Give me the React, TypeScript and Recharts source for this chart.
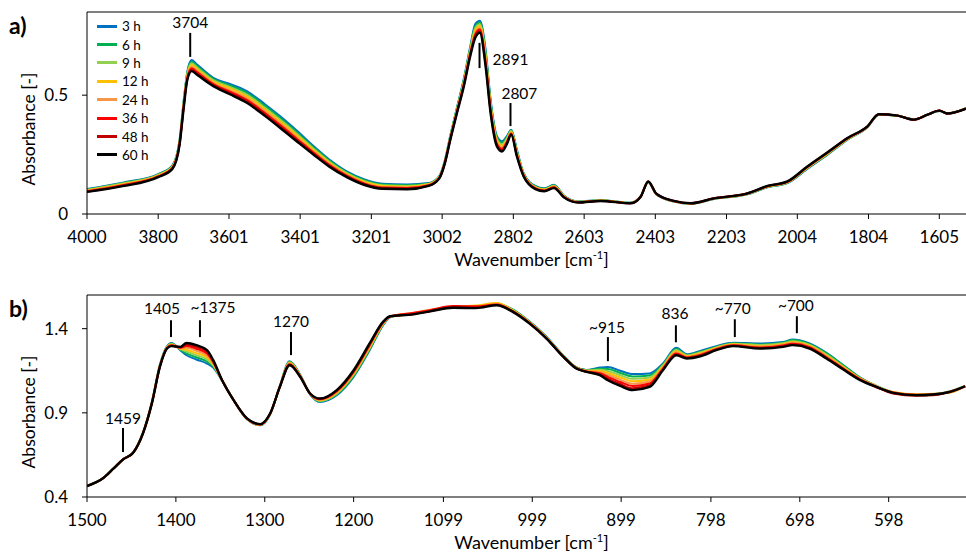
import { LineChart, Line, XAxis, YAxis, ReferenceLine, ReferenceDot, Label } from "recharts";

const seriesNames = ["3 h", "6 h", "9 h", "12 h", "24 h", "36 h", "48 h", "60 h"];
const seriesColors = ["#0070c0", "#00b050", "#92d050", "#ffc000", "#f79646", "#ff0000", "#c00000", "#000000"];

// panel a) 4000 - 1530 cm-1
const wnA = [4000, 3900, 3800, 3760, 3740, 3728, 3718, 3706, 3690, 3645, 3600, 3551, 3500, 3457, 3410, 3363, 3320, 3270, 3220, 3170, 3100, 3040, 3010, 2995, 2979, 2960, 2941, 2923, 2909, 2896, 2880, 2866, 2848, 2834, 2820, 2808, 2792, 2773, 2740, 2715, 2688, 2660, 2620, 2557, 2473, 2444, 2423, 2400, 2351, 2304, 2238, 2144, 2088, 2032, 1976, 1919, 1863, 1807, 1775, 1722, 1676, 1638, 1605, 1582, 1530];
const a3h = [0.105, 0.132, 0.168, 0.205, 0.31, 0.48, 0.6, 0.648, 0.628, 0.573, 0.548, 0.517, 0.462, 0.411, 0.35, 0.285, 0.23, 0.179, 0.145, 0.127, 0.124, 0.13, 0.16, 0.222, 0.33, 0.45, 0.57, 0.705, 0.799, 0.813, 0.693, 0.482, 0.327, 0.306, 0.328, 0.355, 0.27, 0.172, 0.118, 0.108, 0.123, 0.078, 0.053, 0.058, 0.047, 0.075, 0.134, 0.082, 0.052, 0.043, 0.063, 0.083, 0.112, 0.13, 0.19, 0.25, 0.313, 0.365, 0.418, 0.413, 0.398, 0.418, 0.433, 0.423, 0.445];
const a6h = [0.103, 0.13, 0.166, 0.203, 0.307, 0.476, 0.595, 0.641, 0.622, 0.568, 0.542, 0.51, 0.455, 0.404, 0.343, 0.28, 0.226, 0.175, 0.142, 0.124, 0.121, 0.128, 0.158, 0.22, 0.327, 0.447, 0.565, 0.699, 0.79, 0.806, 0.682, 0.474, 0.321, 0.3, 0.323, 0.352, 0.266, 0.17, 0.116, 0.106, 0.121, 0.077, 0.052, 0.058, 0.047, 0.075, 0.135, 0.083, 0.053, 0.043, 0.064, 0.084, 0.113, 0.131, 0.192, 0.252, 0.314, 0.366, 0.418, 0.413, 0.398, 0.418, 0.433, 0.423, 0.445];
const a9h = [0.101, 0.128, 0.164, 0.2, 0.304, 0.471, 0.59, 0.634, 0.615, 0.563, 0.535, 0.502, 0.447, 0.396, 0.337, 0.274, 0.221, 0.172, 0.138, 0.121, 0.118, 0.126, 0.157, 0.218, 0.325, 0.443, 0.56, 0.693, 0.782, 0.798, 0.672, 0.465, 0.314, 0.293, 0.318, 0.349, 0.262, 0.168, 0.114, 0.104, 0.119, 0.076, 0.052, 0.057, 0.046, 0.074, 0.135, 0.083, 0.053, 0.044, 0.064, 0.084, 0.114, 0.132, 0.193, 0.253, 0.315, 0.366, 0.419, 0.413, 0.398, 0.418, 0.434, 0.423, 0.444];
const a12h = [0.1, 0.125, 0.162, 0.198, 0.301, 0.467, 0.584, 0.627, 0.609, 0.557, 0.529, 0.495, 0.44, 0.389, 0.33, 0.269, 0.217, 0.168, 0.135, 0.118, 0.115, 0.125, 0.155, 0.217, 0.322, 0.44, 0.556, 0.687, 0.773, 0.791, 0.661, 0.457, 0.308, 0.287, 0.313, 0.346, 0.257, 0.166, 0.112, 0.103, 0.117, 0.074, 0.051, 0.057, 0.046, 0.074, 0.136, 0.084, 0.054, 0.044, 0.065, 0.085, 0.115, 0.133, 0.195, 0.255, 0.316, 0.367, 0.419, 0.414, 0.397, 0.418, 0.434, 0.423, 0.444];
const a24h = [0.098, 0.123, 0.16, 0.196, 0.298, 0.462, 0.579, 0.62, 0.602, 0.552, 0.522, 0.488, 0.433, 0.382, 0.323, 0.263, 0.212, 0.165, 0.131, 0.114, 0.112, 0.123, 0.154, 0.215, 0.32, 0.436, 0.551, 0.681, 0.765, 0.783, 0.65, 0.448, 0.301, 0.28, 0.308, 0.342, 0.253, 0.164, 0.11, 0.101, 0.115, 0.073, 0.05, 0.056, 0.046, 0.074, 0.136, 0.084, 0.054, 0.044, 0.065, 0.086, 0.116, 0.134, 0.196, 0.256, 0.317, 0.367, 0.419, 0.414, 0.397, 0.418, 0.434, 0.423, 0.444];
const a36h = [0.096, 0.121, 0.158, 0.194, 0.295, 0.458, 0.574, 0.613, 0.596, 0.547, 0.516, 0.48, 0.425, 0.374, 0.316, 0.258, 0.208, 0.161, 0.128, 0.111, 0.109, 0.121, 0.152, 0.213, 0.317, 0.433, 0.546, 0.675, 0.756, 0.776, 0.64, 0.44, 0.295, 0.274, 0.303, 0.339, 0.249, 0.162, 0.108, 0.099, 0.113, 0.072, 0.049, 0.056, 0.045, 0.073, 0.137, 0.085, 0.055, 0.045, 0.066, 0.086, 0.117, 0.135, 0.198, 0.258, 0.318, 0.368, 0.42, 0.414, 0.397, 0.418, 0.435, 0.423, 0.443];
const a48h = [0.094, 0.119, 0.157, 0.192, 0.292, 0.454, 0.569, 0.607, 0.59, 0.542, 0.51, 0.474, 0.419, 0.368, 0.31, 0.253, 0.204, 0.158, 0.125, 0.109, 0.106, 0.119, 0.151, 0.211, 0.315, 0.43, 0.542, 0.67, 0.749, 0.769, 0.631, 0.433, 0.289, 0.268, 0.299, 0.337, 0.245, 0.16, 0.107, 0.097, 0.111, 0.071, 0.049, 0.055, 0.045, 0.073, 0.137, 0.085, 0.055, 0.045, 0.066, 0.087, 0.117, 0.136, 0.199, 0.259, 0.319, 0.368, 0.42, 0.414, 0.397, 0.418, 0.435, 0.423, 0.443];
const a60h = [0.093, 0.117, 0.155, 0.19, 0.29, 0.45, 0.565, 0.601, 0.585, 0.538, 0.505, 0.468, 0.413, 0.362, 0.305, 0.249, 0.2, 0.155, 0.122, 0.106, 0.104, 0.118, 0.15, 0.21, 0.313, 0.427, 0.538, 0.665, 0.742, 0.763, 0.622, 0.426, 0.284, 0.263, 0.295, 0.334, 0.242, 0.158, 0.105, 0.096, 0.109, 0.07, 0.048, 0.055, 0.045, 0.073, 0.137, 0.085, 0.055, 0.045, 0.066, 0.087, 0.118, 0.137, 0.2, 0.26, 0.32, 0.369, 0.42, 0.414, 0.397, 0.418, 0.435, 0.423, 0.443];

// panel b) 1500 - 512 cm-1
const wnB = [1500, 1482, 1470, 1459, 1448, 1437, 1427, 1418, 1410, 1405, 1395, 1388, 1377, 1365, 1358, 1348, 1335, 1320, 1305, 1294, 1283, 1272, 1260, 1249, 1238, 1219, 1200, 1182, 1167, 1159, 1133, 1114, 1088, 1062, 1039, 1021, 1002, 983, 964, 950, 938, 923, 914, 900, 886, 867, 852, 837, 825, 810, 792, 773, 743, 717, 706, 687, 668, 649, 630, 612, 593, 567, 548, 529, 512];
const b3h = [0.466, 0.512, 0.571, 0.626, 0.665, 0.784, 0.965, 1.185, 1.295, 1.315, 1.272, 1.242, 1.217, 1.193, 1.169, 1.092, 0.975, 0.862, 0.826, 0.89, 1.06, 1.207, 1.125, 1.01, 0.965, 1.005, 1.114, 1.272, 1.42, 1.468, 1.49, 1.508, 1.527, 1.532, 1.545, 1.512, 1.442, 1.352, 1.24, 1.172, 1.155, 1.169, 1.173, 1.15, 1.13, 1.134, 1.193, 1.286, 1.248, 1.268, 1.296, 1.317, 1.312, 1.321, 1.335, 1.312, 1.256, 1.183, 1.11, 1.06, 1.022, 1.008, 1.012, 1.022, 1.058];
const b6h = [0.466, 0.511, 0.57, 0.625, 0.664, 0.783, 0.964, 1.183, 1.293, 1.312, 1.275, 1.253, 1.23, 1.205, 1.176, 1.092, 0.975, 0.863, 0.827, 0.891, 1.059, 1.203, 1.123, 1.011, 0.968, 1.01, 1.12, 1.278, 1.423, 1.469, 1.488, 1.506, 1.53, 1.535, 1.548, 1.514, 1.44, 1.35, 1.239, 1.171, 1.153, 1.162, 1.161, 1.137, 1.116, 1.122, 1.187, 1.279, 1.244, 1.263, 1.292, 1.314, 1.306, 1.316, 1.332, 1.308, 1.253, 1.182, 1.108, 1.058, 1.02, 1.003, 1.008, 1.028, 1.06];
const b9h = [0.465, 0.512, 0.571, 0.626, 0.664, 0.782, 0.962, 1.181, 1.291, 1.309, 1.278, 1.264, 1.243, 1.217, 1.182, 1.093, 0.975, 0.864, 0.828, 0.892, 1.058, 1.2, 1.121, 1.012, 0.971, 1.014, 1.126, 1.284, 1.426, 1.47, 1.492, 1.51, 1.526, 1.53, 1.55, 1.51, 1.438, 1.348, 1.238, 1.17, 1.151, 1.156, 1.149, 1.123, 1.102, 1.11, 1.181, 1.273, 1.241, 1.258, 1.289, 1.311, 1.303, 1.313, 1.325, 1.303, 1.246, 1.175, 1.106, 1.062, 1.018, 1.006, 1.006, 1.024, 1.056];
const b12h = [0.465, 0.511, 0.57, 0.625, 0.664, 0.781, 0.961, 1.18, 1.289, 1.306, 1.281, 1.275, 1.255, 1.229, 1.189, 1.093, 0.975, 0.864, 0.829, 0.893, 1.057, 1.196, 1.12, 1.012, 0.974, 1.019, 1.132, 1.29, 1.429, 1.471, 1.487, 1.503, 1.528, 1.538, 1.552, 1.508, 1.437, 1.347, 1.236, 1.169, 1.15, 1.149, 1.137, 1.11, 1.087, 1.098, 1.175, 1.266, 1.237, 1.254, 1.285, 1.308, 1.297, 1.308, 1.32, 1.299, 1.24, 1.172, 1.103, 1.057, 1.024, 1.01, 1.013, 1.02, 1.062];
const b24h = [0.465, 0.511, 0.57, 0.625, 0.663, 0.78, 0.96, 1.178, 1.287, 1.304, 1.284, 1.286, 1.268, 1.24, 1.195, 1.093, 0.975, 0.865, 0.83, 0.894, 1.056, 1.193, 1.118, 1.013, 0.977, 1.023, 1.137, 1.296, 1.432, 1.472, 1.495, 1.512, 1.532, 1.528, 1.546, 1.506, 1.435, 1.345, 1.235, 1.168, 1.148, 1.142, 1.126, 1.096, 1.073, 1.086, 1.169, 1.26, 1.233, 1.249, 1.282, 1.304, 1.294, 1.304, 1.317, 1.294, 1.236, 1.168, 1.101, 1.059, 1.016, 1.004, 1.007, 1.027, 1.055];
const b36h = [0.465, 0.511, 0.57, 0.625, 0.663, 0.779, 0.958, 1.176, 1.285, 1.301, 1.287, 1.297, 1.281, 1.252, 1.202, 1.094, 0.975, 0.866, 0.831, 0.894, 1.056, 1.189, 1.116, 1.014, 0.98, 1.028, 1.143, 1.302, 1.435, 1.472, 1.493, 1.51, 1.534, 1.533, 1.543, 1.504, 1.433, 1.344, 1.234, 1.167, 1.146, 1.135, 1.114, 1.083, 1.059, 1.074, 1.163, 1.253, 1.229, 1.244, 1.278, 1.301, 1.288, 1.3, 1.31, 1.29, 1.23, 1.163, 1.099, 1.052, 1.021, 1.007, 1.01, 1.023, 1.059];
const b48h = [0.465, 0.511, 0.57, 0.625, 0.663, 0.778, 0.957, 1.174, 1.284, 1.298, 1.29, 1.306, 1.292, 1.263, 1.208, 1.094, 0.975, 0.866, 0.832, 0.895, 1.055, 1.186, 1.114, 1.014, 0.983, 1.031, 1.148, 1.307, 1.438, 1.473, 1.486, 1.504, 1.53, 1.526, 1.541, 1.502, 1.432, 1.342, 1.233, 1.166, 1.144, 1.129, 1.103, 1.071, 1.046, 1.064, 1.158, 1.247, 1.226, 1.24, 1.275, 1.299, 1.285, 1.296, 1.306, 1.286, 1.226, 1.16, 1.096, 1.055, 1.015, 1.002, 1.004, 1.026, 1.057];
const b60h = [0.465, 0.511, 0.57, 0.625, 0.663, 0.778, 0.956, 1.173, 1.282, 1.296, 1.292, 1.315, 1.302, 1.272, 1.213, 1.094, 0.975, 0.867, 0.833, 0.896, 1.054, 1.183, 1.113, 1.015, 0.985, 1.035, 1.153, 1.312, 1.44, 1.474, 1.485, 1.503, 1.524, 1.522, 1.539, 1.5, 1.43, 1.341, 1.232, 1.165, 1.143, 1.124, 1.094, 1.06, 1.035, 1.054, 1.153, 1.242, 1.223, 1.236, 1.272, 1.296, 1.282, 1.292, 1.302, 1.282, 1.223, 1.157, 1.094, 1.054, 1.019, 1.005, 1.009, 1.025, 1.058];

const ticksA = [4000, 3800, 3601, 3401, 3201, 3002, 2802, 2603, 2403, 2203, 2004, 1804, 1605];
const ticksB = [1500, 1400, 1300, 1200, 1099, 999, 899, 798, 698, 598];

// peak markers: stick from y0 to y1 at x, label at (tx, ty)
const notesA = [
  { text: "3704", x: 3710, y0: 0.661, y1: 0.762, tx: 3710, ty: 0.804 },
  { text: "2891", x: 2897, y0: 0.614, y1: 0.72, tx: 2810, ty: 0.652 },
  { text: "2807", x: 2810, y0: 0.37, y1: 0.467, tx: 2785, ty: 0.509 }
];
const notesB = [
  { text: "1459", x: 1459.5, y0: 0.667, y1: 0.81, tx: 1459.5, ty: 0.869 },
  { text: "1405", x: 1405.5, y0: 1.35, y1: 1.45, tx: 1415.6, ty: 1.517 },
  { text: "~1375", x: 1372.9, y0: 1.35, y1: 1.45, tx: 1358.3, ty: 1.523 },
  { text: "1270", x: 1270.5, y0: 1.243, y1: 1.38, tx: 1270.5, ty: 1.44 },
  { text: "~915", x: 913.9, y0: 1.207, y1: 1.35, tx: 915, ty: 1.409 },
  { text: "836", x: 837.4, y0: 1.319, y1: 1.42, tx: 838.5, ty: 1.491 },
  { text: "~770", x: 771.1, y0: 1.35, y1: 1.456, tx: 773.4, ty: 1.521 },
  { text: "~700", x: 701.3, y0: 1.373, y1: 1.474, tx: 702.4, ty: 1.539 }
];

const font = "Lato, 'Open Sans', sans-serif";
const axisColor = "#000";

function buildRows(wn: number[], series: number[][]) {
  return wn.map((w, i) => {
    const row: Record<string, number> = { w };
    series.forEach((s, k) => (row["s" + k] = s[i]));
    return row;
  });
}

const rowsA = buildRows(wnA, [a3h, a6h, a9h, a12h, a24h, a36h, a48h, a60h]);
const rowsB = buildRows(wnB, [b3h, b6h, b9h, b12h, b24h, b36h, b48h, b60h]);

function XTitle(props: any) {
  const vb = props.viewBox || { x: 0, y: 0, width: 0 };
  return (
    <text x={vb.x + vb.width / 2 + 5} y={vb.y + 52} textAnchor="middle" fontFamily={font} fontSize={18} fill="#000">
      <tspan>Wavenumber [cm</tspan>
      <tspan dy={-7} fontSize={11}>-1</tspan>
      <tspan dy={7}>]</tspan>
    </text>
  );
}

function YTitle(props: any) {
  const vb = props.viewBox || { x: 0, y: 0, height: 0 };
  const cx = 28;
  const cy = vb.y + vb.height / 2 + 16;
  return (
    <text x={cx} y={cy} transform={`rotate(-90 ${cx} ${cy})`} textAnchor="middle" dominantBaseline="central" fontFamily={font} fontSize={17.5} fill="#000">
      Absorbance [-]
    </text>
  );
}

function Spectrum({ rows, domainX, ticksX, domainY, ticksY, notes, height, bottom }: any) {
  return (
    <LineChart width={966} height={height} data={rows} margin={{ top: 12, right: 0, left: 27, bottom }}>
      <XAxis
        type="number"
        dataKey="w"
        domain={domainX}
        reversed
        ticks={ticksX}
        interval={0}
        allowDataOverflow
        height={30}
        tickSize={5}
        tickMargin={12}
        stroke={axisColor}
        tick={{ fill: "#000", fontSize: 17, fontFamily: font }}
      >
        <Label content={<XTitle />} />
      </XAxis>
      <YAxis
        type="number"
        domain={domainY}
        ticks={ticksY}
        interval={0}
        allowDataOverflow
        width={60}
        tickSize={5}
        tickMargin={14}
        stroke={axisColor}
        tick={{ fill: "#000", fontSize: 17, fontFamily: font }}
      >
        <Label content={<YTitle />} />
      </YAxis>
      <ReferenceLine y={domainY[1]} stroke={axisColor} strokeWidth={1} />
      {seriesNames.map((name, k) => (
        <Line
          key={name}
          name={name}
          dataKey={"s" + k}
          type="monotone"
          stroke={seriesColors[k]}
          strokeWidth={k === 7 ? 2.4 : 2}
          dot={false}
          activeDot={false}
          isAnimationActive={false}
        />
      ))}
      {notes.map((n: any) => (
        <ReferenceLine
          key={"l" + n.text}
          segment={[{ x: n.x, y: n.y0 }, { x: n.x, y: n.y1 }]}
          stroke="#000"
          strokeWidth={2}
        />
      ))}
      {notes.map((n: any) => (
        <ReferenceDot
          key={"t" + n.text}
          x={n.tx}
          y={n.ty}
          r={0}
          fill="none"
          stroke="none"
          label={{ value: n.text, position: "center", fill: "#000", fontSize: 15.5, fontFamily: font }}
        />
      ))}
    </LineChart>
  );
}

function LegendBox() {
  return (
    <div style={{ position: "absolute", left: 97, top: 17, fontFamily: font, fontSize: 13.5, color: "#000" }}>
      {seriesNames.map((name, k) => (
        <div key={name} style={{ display: "flex", alignItems: "center", height: 18.4 }}>
          <span style={{ display: "inline-block", width: 20, height: 3, background: seriesColors[k], marginRight: 5 }} />
          <span>{name}</span>
        </div>
      ))}
    </div>
  );
}

export default function App() {
  return (
    <div style={{ position: "absolute", left: 0, top: 0, width: 966, height: 555, background: "#fff", overflow: "hidden" }}>
      <div style={{ position: "absolute", left: 0, top: 0 }}>
        <Spectrum rows={rowsA} domainX={[1530, 4000]} ticksX={ticksA} domainY={[0, 0.85]} ticksY={[0, 0.5]} notes={notesA} height={275} bottom={31} />
      </div>
      <div style={{ position: "absolute", left: 0, top: 283 }}>
        <Spectrum rows={rowsB} domainX={[511, 1500]} ticksX={ticksB} domainY={[0.4, 1.6]} ticksY={[0.4, 0.9, 1.4]} notes={notesB} height={272} bottom={28} />
      </div>
      <LegendBox />
      <div style={{ position: "absolute", left: 9, top: 11, fontFamily: font, fontWeight: 700, fontSize: 23 }}>a)</div>
      <div style={{ position: "absolute", left: 9, top: 294, fontFamily: font, fontWeight: 700, fontSize: 23 }}>b)</div>
    </div>
  );
}
